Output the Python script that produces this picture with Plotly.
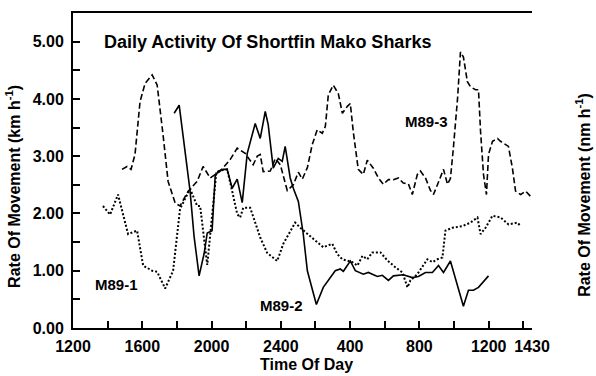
import plotly.graph_objects as go

# Time of day as continuous hours (12 = 1200 day 1, 24 = 2400, 38.5 = 1430 day 2)
m1_t = [13.73, 14.14, 14.60, 15.18, 15.70, 16.05, 16.57, 16.86, 17.32, 17.78,
        18.18, 18.76, 19.17, 19.34, 19.75, 20.09, 20.27, 20.50, 20.90, 21.19,
        21.48, 21.65, 21.83, 22.23, 22.81, 23.21, 23.79, 24.14, 24.83, 25.12,
        25.53, 26.10, 26.45, 26.97, 27.26, 27.55, 28.13, 28.42, 28.71, 28.99,
        29.28, 29.75, 30.15, 30.61, 31.02, 31.31, 31.48, 31.88, 32.46, 32.75,
        33.04, 33.33, 33.50, 33.91, 34.49, 34.95, 35.35, 35.53, 35.82, 36.22,
        36.68, 37.14, 37.66, 37.84]
m1_v = [2.13, 1.98, 2.33, 1.64, 1.70, 1.09, 1.00, 0.98, 0.69, 1.00,
        2.08, 2.43, 2.13, 2.13, 1.10, 2.20, 2.70, 2.75, 2.77, 2.39,
        1.99, 1.93, 2.10, 2.10, 1.58, 1.31, 1.17, 1.47, 1.84, 1.75,
        1.64, 1.49, 1.41, 1.47, 1.29, 1.20, 1.15, 1.09, 1.26, 1.20,
        1.32, 1.32, 1.18, 1.06, 0.97, 0.71, 0.83, 0.94, 1.20, 1.15,
        1.20, 1.23, 1.70, 1.75, 1.78, 1.84, 1.93, 1.64, 1.75, 1.96,
        1.93, 1.81, 1.84, 1.78]

m2_t = [17.84, 18.13, 18.76, 18.99, 19.28, 19.57, 19.75, 20.03, 20.21, 20.38,
        20.67, 20.90, 21.19, 21.48, 21.77, 22.06, 22.52, 22.81, 23.10, 23.27,
        23.56, 23.85, 24.08, 24.25, 24.54, 24.72, 25.01, 25.29, 25.53, 26.05,
        26.45, 27.14, 27.43, 27.61, 28.01, 28.30, 28.76, 29.05, 29.57, 29.86,
        30.21, 30.50, 31.07, 31.59, 31.94, 32.35, 32.75, 33.10, 33.39, 33.79,
        34.54, 34.83, 35.12, 35.41, 35.99]
m2_v = [3.75, 3.89, 2.39, 1.60, 0.91, 1.30, 1.66, 1.70, 2.65, 2.74,
        2.77, 2.77, 2.44, 2.60, 2.19, 3.05, 3.57, 3.31, 3.78, 3.55,
        2.79, 2.96, 2.91, 3.17, 2.62, 2.44, 2.21, 1.65, 1.00, 0.41,
        0.71, 1.00, 1.03, 0.99, 1.17, 1.00, 0.94, 0.97, 0.90, 0.92,
        0.83, 0.91, 0.93, 0.88, 0.90, 0.97, 0.97, 1.09, 0.97, 1.17,
        0.38, 0.66, 0.66, 0.71, 0.91]

m3_t = [14.83, 15.12, 15.35, 15.58, 15.87, 16.16, 16.57, 16.86, 17.20, 17.49,
        17.90, 18.18, 18.65, 19.17, 19.51, 19.92, 20.50, 21.07, 21.48, 21.94,
        22.40, 22.64, 22.81, 22.98, 23.39, 23.68, 23.97, 24.37, 24.72, 25.01,
        25.24, 25.53, 25.81, 26.10, 26.39, 26.57, 26.74, 27.03, 27.32, 27.55,
        27.84, 28.01, 28.18, 28.30, 28.47, 28.76, 28.99, 29.34, 29.63, 29.92,
        30.21, 30.50, 30.79, 31.07, 31.36, 31.59, 31.88, 32.06, 32.35, 32.64,
        32.81, 33.04, 33.21, 33.39, 33.62, 33.79, 33.96, 34.20, 34.37, 34.54,
        34.77, 34.95, 35.24, 35.41, 35.53, 35.70, 35.87, 35.99, 36.22, 36.51,
        36.68, 37.14, 37.37, 37.55, 37.84, 38.13, 38.41]
m3_v = [2.77, 2.82, 2.77, 3.03, 3.95, 4.27, 4.42, 4.24, 3.37, 2.56,
        2.18, 2.13, 2.39, 2.56, 2.82, 2.62, 2.74, 2.94, 3.14, 3.05,
        2.85, 3.00, 3.03, 2.73, 2.74, 2.96, 2.85, 2.40, 2.50, 2.72,
        2.60, 2.80, 3.20, 3.46, 3.40, 3.52, 4.07, 4.24, 4.09, 3.75,
        3.87, 3.92, 3.43, 3.14, 2.77, 2.68, 2.93, 2.79, 2.62, 2.51,
        2.59, 2.59, 2.62, 2.53, 2.52, 2.33, 2.68, 2.74, 2.62, 2.40,
        2.33, 2.50, 2.65, 2.77, 2.51, 2.61, 3.14, 4.00, 4.82, 4.73,
        4.30, 4.21, 4.16, 4.16, 3.43, 2.68, 2.33, 3.03, 3.26, 3.31,
        3.26, 3.17, 2.79, 2.39, 2.33, 2.39, 2.30]

x_tickvals = [12, 16, 20, 24, 28, 32, 36, 38.5]
x_ticktext = ["1200", "1600", "2000", "2400", "400", "800", "1200", "1430"]
x_minor = [14, 18, 22, 26, 30, 34, 38]
yl_tickvals = [0, 1, 2, 3, 4, 5]
yr_tickvals = [0, 0.5, 1.0, 1.5, 2.0, 2.5, 3.0]

FONT = "Liberation Sans, Arial, Helvetica, sans-serif"

fig = go.Figure()
fig.add_trace(go.Scatter(x=m1_t, y=m1_v, mode="lines", name="M89-1",
                         line=dict(color="black", width=2, dash="2px,2px")))
fig.add_trace(go.Scatter(x=m2_t, y=m2_v, mode="lines", name="M89-2",
                         line=dict(color="black", width=1.6)))
fig.add_trace(go.Scatter(x=m3_t, y=m3_v, mode="lines", name="M89-3",
                         line=dict(color="black", width=1.6, dash="6px,3px")))

tickfont = dict(family=FONT, size=16, color="black", weight="bold")

fig.update_layout(
    width=596, height=376,
    margin=dict(l=73, r=64, t=11, b=48),
    paper_bgcolor="white", plot_bgcolor="white",
    showlegend=False,
    font=dict(family=FONT, color="black"),
    xaxis=dict(range=[12, 38.5], tickmode="array", tickvals=x_tickvals, ticktext=x_ticktext,
               ticks="inside", ticklen=7, tickwidth=1.5, tickcolor="black",
               minor=dict(tickmode="array", tickvals=x_minor, ticks="inside", ticklen=7,
                          tickwidth=1.5, tickcolor="black"),
               showline=True, linecolor="black", linewidth=2, mirror=True,
               showgrid=False, zeroline=False, tickfont=tickfont, ticklabelstandoff=3),
    yaxis=dict(range=[0, 5.5], tickmode="array", tickvals=yl_tickvals, tickformat=".2f",
               ticks="inside", ticklen=7, tickwidth=1.5, tickcolor="black",
               minor=dict(dtick=0.5, tick0=0, ticks="inside", ticklen=7,
                          tickwidth=1.5, tickcolor="black"),
               showline=True, linecolor="black", linewidth=2,
               showgrid=False, zeroline=False, tickfont=tickfont, ticklabelstandoff=4),
    yaxis2=dict(range=[0, 3.0], overlaying="y", side="right", tickmode="array",
                tickvals=yr_tickvals, tickformat=".1f",
                ticks="inside", ticklen=7, tickwidth=1.5, tickcolor="black",
                minor=dict(dtick=0.25, tick0=0, ticks="inside", ticklen=7,
                           tickwidth=1.5, tickcolor="black"),
                showline=True, linecolor="black", linewidth=2,
                showgrid=False, zeroline=False, tickfont=tickfont, ticklabelstandoff=6),
)

lab = dict(family=FONT, size=15, color="black", weight="bold")
annos = [
    dict(x=13.65, y=5.0, text="Daily Activity Of Shortfin Mako Sharks", xanchor="left",
         yanchor="middle", font=dict(family=FONT, size=18, color="black", weight="bold")),
    dict(x=14.54, y=0.76, text="M89-1", font=lab),
    dict(x=24.02, y=0.39, text="M89-2", font=lab),
    dict(x=32.4, y=3.61, text="M89-3", font=lab),
]
for a in annos:
    a.update(xref="x", yref="y", showarrow=False)
    a.setdefault("xanchor", "center")
    a.setdefault("yanchor", "middle")
    fig.add_annotation(**a)

fig.add_annotation(x=(306 - 73) / 459, xref="paper", y=-(365 - 328) / 317, yref="paper",
                   xanchor="center", yanchor="middle", text="Time Of Day", showarrow=False,
                   font=dict(family=FONT, size=16, color="black", weight="bold"))
fig.add_annotation(x=-(73 - 13) / 459, xref="paper", y=(328 - 186) / 317, yref="paper",
                   xanchor="center", yanchor="middle",
                   textangle=-90, text="Rate Of Movement (km h<sup>-1</sup>)", showarrow=False,
                   font=dict(family=FONT, size=16, color="black", weight="bold"))
fig.add_annotation(x=1 + (583 - 532) / 459, xref="paper", y=(328 - 194) / 317, yref="paper",
                   xanchor="center", yanchor="middle",
                   textangle=-90, text="Rate Of Movement (nm h<sup>-1</sup>)", showarrow=False,
                   font=dict(family=FONT, size=16, color="black", weight="bold"))

fig.write_html("out.html", config={"displayModeBar": False},
               post_script="document.body.style.margin='0px';")
